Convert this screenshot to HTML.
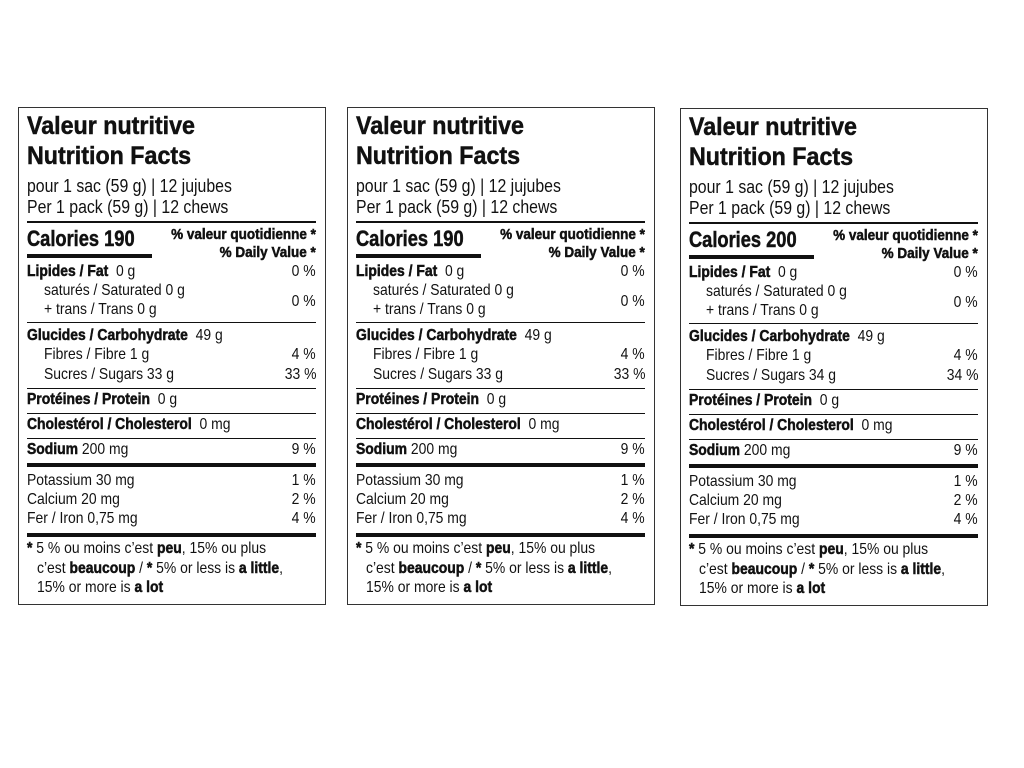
<!DOCTYPE html>
<html><head><meta charset="utf-8"><style>
body{margin:0;width:1024px;height:768px;background:#fff;position:relative;overflow:hidden;font-family:"Liberation Sans",sans-serif;color:#111}
.box{position:absolute;border:1.5px solid #333;width:308px;height:498px;box-sizing:border-box}
.t{position:absolute;white-space:nowrap;line-height:1;transform-origin:left top}
.r{transform-origin:right top;text-align:right}
.b,b{font-weight:bold;-webkit-text-stroke:0.5px #111}
.ln{position:absolute;background:#111}
</style></head><body>
<script>
function panel(ox,oy,cal,sug){
  var L=ox+27,R=ox+316;
  var h='<div class="box" style="left:'+(ox+18)+'px;top:'+(oy+107)+'px"></div>';
  function t(x,base,size,html,cls,sc){
    sc=sc||0.93;
    var top=base-0.847*size+oy;
    var st='top:'+top+'px;font-size:'+size+'px;transform:scaleX('+sc+')';
    if(cls&&cls.indexOf('r')>=0){h+='<div class="t '+cls+'" style="right:'+(1024-x)+'px;'+st+'">'+html+'</div>';}
    else h+='<div class="t '+(cls||'')+'" style="left:'+x+'px;'+st+'">'+html+'</div>';
  }
  function ln(y,th,x1,x2){h+='<div class="ln" style="left:'+x1+'px;width:'+(x2-x1)+'px;top:'+(y+oy)+'px;height:'+th+'px"></div>';}
  var s=16,k=0.87;
  t(L,135,25,'Valeur nutritive','b');
  t(L,165,25,'Nutrition Facts','b');
  t(L,192,18,'pour 1 sac (59 g) | 12 jujubes','',0.88);
  t(L,213,18,'Per 1 pack (59 g) | 12 chews','',0.88);
  ln(221,2,L,R);
  t(L,247,22,'Calories '+cal,'b',0.83);
  t(R,240,15,'% valeur quotidienne *','b r',0.9);
  t(R,258,15,'% Daily Value *','b r',0.9);
  ln(254,4,L,ox+152);
  t(L,278,s,'<b>Lipides / Fat</b>&nbsp; 0 g','',k);
  t(R,278,s,'0 %','r',k);
  t(L+17,297,s,'saturés / Saturated 0 g','',k);
  t(L+17,316,s,'+ trans / Trans 0 g','',k);
  t(R,308,s,'0 %','r',k);
  ln(322,1,L,R);
  t(L,342,s,'<b>Glucides / Carbohydrate</b>&nbsp; 49 g','',k);
  t(L+17,361,s,'Fibres / Fibre 1 g','',k);t(R,361,s,'4 %','r',k);
  t(L+17,381,s,'Sucres / Sugars '+sug+' g','',k);t(R,381,s,sug+' %','r',k);
  ln(388,1,L,R);
  t(L,406,s,'<b>Protéines / Protein</b>&nbsp; 0 g','',k);
  ln(413,1,L,R);
  t(L,431,s,'<b>Cholestérol / Cholesterol</b>&nbsp; 0 mg','',k);
  ln(438,1,L,R);
  t(L,456,s,'<b>Sodium</b>&nbsp;200 mg','',k);t(R,456,s,'9 %','r',k);
  ln(463,4,L,R);
  t(L,487,s,'Potassium 30 mg','',k);t(R,487,s,'1 %','r',k);
  t(L,506,s,'Calcium 20 mg','',k);t(R,506,s,'2 %','r',k);
  t(L,525,s,'Fer / Iron 0,75 mg','',k);t(R,525,s,'4 %','r',k);
  ln(533,4,L,R);
  t(L,555,s,'<b>*</b> 5 % ou moins c’est <b>peu</b>, 15% ou plus','',k);
  t(L+10,575,s,'c’est <b>beaucoup</b> / <b>*</b> 5% or less is <b>a little</b>,','',k);
  t(L+10,594,s,'15% or more is <b>a lot</b>','',k);
  document.write(h);
}
panel(0,0,190,33);
panel(329,0,190,33);
panel(662,1,200,34);
</script>
</body></html>
